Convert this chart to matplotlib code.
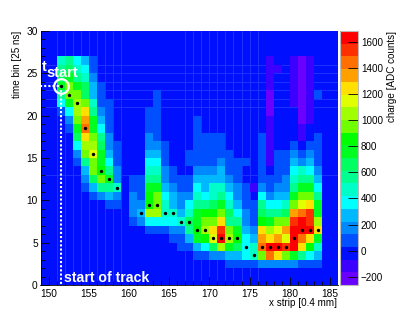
import numpy as np
import matplotlib
matplotlib.use("Agg")
import matplotlib.pyplot as plt
from matplotlib.colors import ListedColormap, BoundaryNorm

plt.rcParams['font.family'] = ['Liberation Sans', 'DejaVu Sans']

W, H = 407, 317
x_first, x_last = 149, 186
t_bins = 30
background = -20

# charge [ADC counts] per time bin: {first strip: values of consecutive strips}
row_26 = {151: [465, 562, 368, 271, 77], 177: [-118], 180: [-118, -215, -118]}
row_25 = {151: [562, 659, 465, 368, 77], 177: [-118, -118], 180: [-118, -215, -118]}
row_24 = {151: [659, 756, 562, 465, 174], 177: [-118], 180: [-118, -215, -118]}
row_23 = {151: [756, 950, 756, 659, 271, 77], 177: [-118], 180: [-118, -215, -118]}
row_22 = {151: [562, 950, 950, 659, 271, 77], 163: [77], 177: [-215], 180: [-118, -215, -118, 77]}
row_21 = {151: [368, 756, 1047, 950, 465, 77, 77], 163: [77], 177: [-215], 180: [-118, -215, -118]}
row_20 = {151: [77, 368, 1047, 1241, 562, 174, 77], 162: [77, 77], 177: [-215], 181: [-215, -118]}
row_19 = {152: [174, 950, 1338, 756, 271, 77], 162: [77, 77], 168: [77], 177: [-118], 181: [-215, -118]}
row_18 = {152: [77, 756, 1435, 756, 368, 77], 162: [77, 77], 168: [77], 177: [-118], 181: [-118]}
row_17 = {153: [659, 1241, 950, 562, 174], 162: [174, 77], 168: [77, 77, 77, 77], 176: [77, -118], 181: [-118], 183: [77]}
row_16 = {153: [368, 1047, 1047, 659, 174, 77], 162: [174, 174, 77], 168: [77, 77, 77, 77], 176: [77, -118], 180: [77], 182: [77, 77]}
row_15 = {153: [174, 950, 1144, 756, 271, 77], 162: [271, 271, 77], 167: [77, 77, 77, 77, 77, 77], 176: [77, -118, 77, 77, 174, 77, 174, 77]}
row_14 = {153: [77, 562, 950, 756, 368, 77], 162: [368, 368, 77], 167: [77, 77, 77, 77, 174, 77, 77, 77], 176: [77, -118, 77, 77, 271, 174, 271, 77]}
row_13 = {154: [271, 950, 853, 562, 174], 162: [465, 465, 174, 77], 168: [174, 174, 174, 271, 77, 77, -20], 176: [77, -20, 77, 77, 368, 465, 368, 174]}
row_12 = {154: [174, 659, 950, 756, 174], 160: [77, 77, 562, 562, 174, 77, 77, 77], 168: [271, 271, 271, 271, 174, 77], 176: [77, 77, 77, 174, 465, 562, 562, 271]}
row_11 = {154: [77, 271, 562, 562, 465], 160: [77, 77, 756, 756, 271, 174, 77, 77], 168: [368, 271, 465, 465, 271, 174, 77, -118], 176: [174, 77, 174, 174, 562, 756, 756, 368]}
row_10 = {155: [77, 174, 271, 174], 160: [174, 77, 853, 950, 368, 271, 174, 174], 168: [465, 368, 465, 562, 368, 174, 77, -20], 176: [368, 174, 271, 271, 756, 950, 950, 562]}
row_09 = {157: [77, 77], 160: [174, 174, 853, 950, 465, 271, 174, 368], 168: [562, 562, 659, 756, 465, 271, 77, 77], 176: [562, 368, 368, 465, 950, 1144, 1241, 756]}
row_08 = {160: [174, 271, 1047, 1047, 465, 465, 271, 465], 168: [756, 853, 853, 950, 659, 368, 174, 77], 176: [659, 562, 562, 659, 1338, 1435, 1532, 756]}
row_07 = {160: [77, 174, 368, 368, 368, 368, 465, 659], 168: [756, 950, 950, 1241, 562, 562, 174, 77], 176: [853, 756, 950, 950, 1532, 1629, 1532, 1047]}
row_06 = {162: [77, 77, 77, 174, 174, 562], 168: [853, 1047, 1241, 1532, 950, 756, 271, 174], 176: [1241, 1047, 1144, 1338, 1629, 1629, 1629, 1241]}
row_05 = {165: [77, 77, 271], 168: [756, 853, 1144, 1629, 1047, 853, 368, 271], 176: [1338, 1241, 1338, 1144, 1629, 1435, 1241, 756]}
row_04 = {166: [77, 77], 168: [271, 368, 659, 1047, 756, 659, 368, 465], 176: [1435, 1629, 1629, 1532, 1629, 1241, 853, 465]}
row_03 = {168: [77, 77, 174, 174, 271, 271, 368, 465], 176: [950, 1435, 1241, 950, 756, 562, 368, 271]}
row_02 = {172: [77, 77, 77, 77, 174, 174, 174, 174, 174, 77, 77, 77]}

rows = {26: row_26, 25: row_25, 24: row_24, 23: row_23, 22: row_22, 21: row_21, 20: row_20,
        19: row_19, 18: row_18, 17: row_17, 16: row_16, 15: row_15, 14: row_14, 13: row_13,
        12: row_12, 11: row_11, 10: row_10, 9: row_09, 8: row_08, 7: row_07, 6: row_06,
        5: row_05, 4: row_04, 3: row_03, 2: row_02}

# track points
track_strip = [151, 152, 153, 154, 155, 156, 157, 158, 161, 162, 163, 164, 165, 166, 167,
               168, 169, 170, 171, 172, 173, 174, 175, 176, 177, 178, 179, 180, 181, 182, 183]
track_bin = [23, 22, 21, 18, 15, 13, 12, 11, 8, 9, 9, 8, 8, 7, 7,
             6, 6, 5, 5, 5, 5, 4, 3, 4, 4, 4, 4, 5, 6, 6, 6]

band_colors = ['#6a00ff', '#3c00ff', '#0010ff', '#0050ff', '#0088ff', '#00b8ff', '#00ffff',
               '#00ffc8', '#00ff90', '#00ff60', '#00ff20', '#00ff00', '#70ff00', '#a0ff00',
               '#e0ff00', '#ffe000', '#ffa000', '#ff7000', '#ff3000', '#ff0000']
z_min, z_max = -263, 1682
cbar_ticks = [-200, 0, 200, 400, 600, 800, 1000, 1200, 1400, 1600]
x_ticks = [150, 155, 160, 165, 170, 175, 180, 185]
y_ticks = [0, 5, 10, 15, 20, 25, 30]

z = np.full((t_bins, x_last - x_first), background, dtype=float)
for r, segs in rows.items():
    for c0, vals in segs.items():
        for i, v in enumerate(vals):
            z[r, c0 - x_first + i] = v

fig = plt.figure(figsize=(W / 100, H / 100), dpi=100)
def box(l, t, r, b):
    return [l / W, 1 - b / H, (r - l) / W, (b - t) / H]

ax = fig.add_axes(box(40.5, 31, 338, 285))
levels = np.linspace(z_min, z_max, len(band_colors) + 1)
cmap = ListedColormap(band_colors)
norm = BoundaryNorm(levels, cmap.N)
xe = np.arange(x_first, x_last + 1)
ye = np.arange(0, t_bins + 1)
ax.set_facecolor(band_colors[2])

# faint seams of the original rendering, visible only on the empty background
seam = '#2038ff'
for c in list(range(151, 160)) + list(range(167, 177)):
    ax.axvline(c, color=seam, lw=0.6, zorder=0.5)
for r in [21, 22, 23, 24, 25, 26, 13]:
    ax.axhline(r, color=seam, lw=0.6, zorder=0.5)

mesh = ax.pcolormesh(xe, ye, np.ma.masked_equal(z, background), cmap=cmap, norm=norm,
                     linewidth=0, zorder=1)

sx = np.array(track_strip) + 0.5
sy = np.array(track_bin) + 0.5
ax.scatter(sx, sy, s=6, c='black', linewidths=0, zorder=4)

ax.plot([x_first, sx[0]], [sy[0], sy[0]], color='white', lw=1.5, ls=(0, (1, 1)), zorder=3)
ax.plot([sx[0], sx[0]], [sy[0], 0], color='white', lw=1.5, ls=(0, (1, 1)), zorder=3)
ax.plot([sx[0]], [sy[0]], marker='o', ms=10.5, mfc='none', mec='white', mew=1.6, zorder=5)
ax.text(149.2, 25.7, 't', color='white', fontweight='bold', fontsize=10.5, ha='left', va='center', zorder=6)
ax.text(149.8, 25.05, 'start', color='white', fontweight='bold', fontsize=10.5, ha='left', va='center', zorder=6)
ax.text(151.9, 0.85, 'start of track', color='white', fontweight='bold', fontsize=10.2, ha='left', va='center', zorder=6)

ax.set_xlim(x_first, x_last)
ax.set_ylim(0, t_bins)
ax.set_xticks(x_ticks)
ax.set_yticks(y_ticks)
ax.set_xticks(np.arange(150, 186), minor=True)
ax.set_yticks(np.arange(0, 31), minor=True)
ax.tick_params(axis='x', which='major', direction='in', length=6, width=0.6, pad=3, labelsize=7.3)
ax.tick_params(axis='y', which='major', direction='in', length=6, width=0.6, pad=2, labelsize=7.3)
ax.tick_params(axis='both', which='minor', direction='in', length=3, width=0.6)
for s in ['top', 'right']:
    ax.spines[s].set_visible(False)
for s in ['left', 'bottom']:
    ax.spines[s].set_linewidth(0.6)

fig.text(337 / W, 1 - 303 / H, 'x strip [0.4 mm]', fontsize=7.1, ha='right', va='center')
fig.text(17 / W, 1 - 31 / H, 'time bin [25 ns]', fontsize=7.1, rotation=90, ha='center', va='top')
fig.text(392 / W, 1 - 31 / H, 'charge [ADC counts]', fontsize=7.1, rotation=90, ha='center', va='top')

cax = fig.add_axes(box(339.5, 31, 358, 285))
cb = fig.colorbar(mesh, cax=cax, ticks=cbar_ticks, spacing='proportional', drawedges=False)
cb.ax.tick_params(which='both', direction='in', length=7.5, width=0.6, labelsize=7.1, pad=2, right=True)
cb.ax.minorticks_off()
cb.outline.set_edgecolor('#bbbbbb')
cb.outline.set_linewidth(0.8)

fig.savefig('out.png', dpi=100)
